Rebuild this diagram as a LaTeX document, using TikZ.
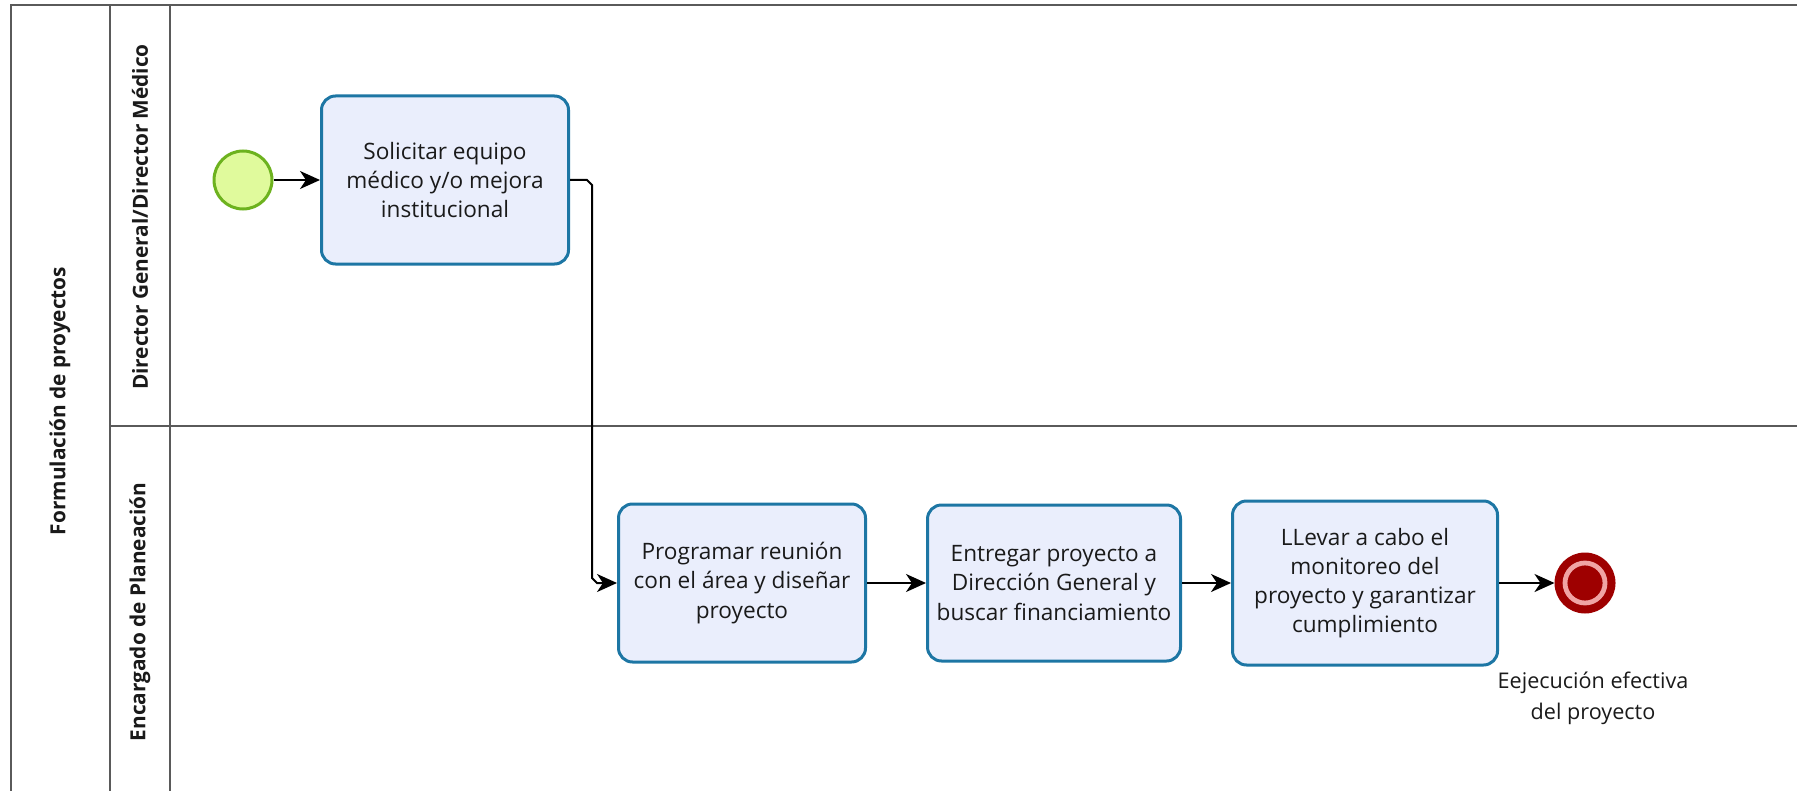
\documentclass[tikz,border=0pt]{standalone}
\usepackage{fontspec}
\setmainfont{Open Sans}
\usetikzlibrary{arrows.meta,calc}

\definecolor{taskfill}{HTML}{EAEEFC}
\definecolor{taskline}{HTML}{1D76A4}
\definecolor{startfill}{HTML}{E0FA9C}
\definecolor{startline}{HTML}{6DB21E}
\definecolor{endred}{HTML}{9E0000}
\definecolor{endpink}{HTML}{F0A4A4}
\definecolor{poolline}{HTML}{5A5A5A}
\definecolor{txt}{HTML}{1A1A1A}

\tikzset{
  task/.style={draw=taskline, fill=taskfill, line width=1.5pt, rounded corners=7pt,
    align=center, text=txt, font=\fontsize{11.3}{14.6}\selectfont, inner sep=0pt},
  startevent/.style={circle, draw=startline, fill=startfill, line width=1.5pt,
    minimum size=29pt, inner sep=0pt},
  endevent/.style={circle, draw=endred, fill=endred, line width=1.5pt,
    minimum size=29pt, inner sep=0pt},
  flow/.style={draw=black, line width=1pt, -{Stealth[length=10pt,width=9pt,inset=3pt]}},
  lanelabel/.style={rotate=90, font=\bfseries\fontsize{10.4}{12}\selectfont, text=txt},
  pool/.style={draw=poolline, line width=1pt}
}

\begin{document}
\begin{tikzpicture}[x=0.5pt, y=-0.5pt]
\useasboundingbox (0,0) rectangle (1797,791);

% pool and lanes
\draw[pool] (1797,5) -- (11,5) -- (11,791);
\draw[pool] (110,5) -- (110,791);
\draw[pool] (170,5) -- (170,791);
\draw[pool] (110,426) -- (1797,426);

\node[lanelabel] (poolname) at (60,401) {Formulación de proyectos};
\node[lanelabel] (lane1) at (140,217) {Director General/Director Médico};
\node[lanelabel] (lane2) at (140,612) {Encargado de Planeación};

% events and tasks
\node[startevent] (start) at (243,180) {};
\node[task, minimum width=123.5pt, minimum height=84pt] (t1) at (445,180)
  {Solicitar equipo\\médico y/o mejora\\institucional};
\node[task, minimum width=123.5pt, minimum height=79pt] (t2) at (742,583)
  {Programar reunión\\con el área y diseñar\\proyecto};
\node[task, minimum width=126.5pt, minimum height=78pt] (t3) at (1054,583)
  {Entregar proyecto a\\Dirección General y\\buscar financiamiento};
\node[task, minimum width=132.5pt, minimum height=82pt] (t4) at (1365,583)
  {LLevar a cabo el\\monitoreo del\\proyecto y garantizar\\cumplimiento};
\node[endevent] (end) at (1585,583) {};
\draw[endpink, line width=2.4pt] (end.center) circle[radius=10pt];
\node[align=center, text=txt, font=\fontsize{10.8}{15.5}\selectfont] (endlabel) at (1593,698)
  {Eejecución efectiva\\del proyecto};

% sequence flows
\coordinate (bend) at (592,0);
\draw[flow] (start.east) -- (t1.west);
\draw[flow] (t1.east) -- ([xshift=-2.5pt]t1.east -| bend) -- ([yshift=-2.5pt]t1.east -| bend)
  -- ([yshift=2.5pt]t2.west -| bend) -- ([xshift=2.5pt]t2.west -| bend) -- (t2.west);
\draw[flow] (t2.east) -- (t3.west);
\draw[flow] (t3.east) -- (t4.west);
\draw[flow] (t4.east) -- (end.west);
\end{tikzpicture}
\end{document}
